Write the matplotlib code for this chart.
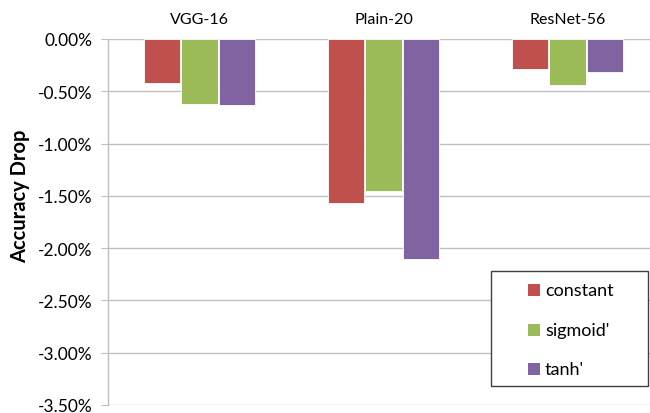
import matplotlib
matplotlib.use("Agg")
import matplotlib.pyplot as plt
import numpy as np
from matplotlib.ticker import FuncFormatter, MultipleLocator
from matplotlib.patches import Rectangle

categories = ["VGG-16", "Plain-20", "ResNet-56"]
series_names = ["constant", "sigmoid'", "tanh'"]
constant = [-0.42, -1.565, -0.29]
sigmoid = [-0.62, -1.45, -0.44]
tanh = [-0.63, -2.10, -0.315]
colors = ["#C0504D", "#9BBB59", "#8064A2"]

plt.rcParams['font.family'] = ['Lato', 'DejaVu Sans']

fig = plt.figure(figsize=(6.5, 4.14), dpi=100)
W, H = 650, 414
left, right, top, bottom = 108, 650, 40, 406
ax = fig.add_axes([left / W, 1 - bottom / H, (right - left) / W, (bottom - top) / H])

x = np.arange(len(categories))
offsets = [-0.205, 0.0, 0.205]
for vals, off, c, name in zip([constant, sigmoid, tanh], offsets, colors, series_names):
    ax.bar(x + off, vals, width=0.198, color=c, edgecolor="white", linewidth=0.6, label=name, zorder=3)

ax.set_ylim(-3.5, 0)
ax.set_xlim(-0.497, 2.448)
ax.yaxis.set_major_locator(MultipleLocator(0.5))
ax.yaxis.set_major_formatter(FuncFormatter(lambda v, p: f"{v:.2f}%" if abs(v) > 1e-9 else "0.00%"))
ax.grid(axis="y", color="#BFBFBF", linewidth=1.0, zorder=0)
ax.set_axisbelow(True)

for s in ["top", "right", "bottom"]:
    ax.spines[s].set_visible(False)
ax.spines["left"].set_color("#BFBFBF")
ax.spines["left"].set_linewidth(1.0)

ax.xaxis.tick_top()
ax.set_xticks(x)
ax.set_xticklabels(categories, fontsize=11.5)
ax.tick_params(axis="x", length=0, pad=9)
ax.tick_params(axis="y", length=5, color="#BFBFBF", labelsize=12.5, pad=6)

fig.text(20 / W, 1 - 196 / H, "Accuracy Drop", rotation=90, ha="center", va="center",
         fontsize=14.5, fontweight="bold")

# legend drawn in figure pixel coordinates
def fx(px):
    return px / W

def fy(py):
    return 1 - py / H

fig.patches.append(Rectangle((fx(491), fy(387)), (648 - 491) / W, (387 - 272) / H,
                             transform=fig.transFigure, facecolor="white",
                             edgecolor="#404040", linewidth=1.0, zorder=5))
for i, (name, c) in enumerate(zip(series_names, colors)):
    cy = [291, 331, 370][i]
    fig.patches.append(Rectangle((fx(528), fy(cy + 6)), 12 / W, 12 / H,
                                 transform=fig.transFigure, facecolor=c,
                                 edgecolor="none", zorder=6))
    fig.text(fx(545), fy(cy), name, fontsize=13, ha="left", va="center", zorder=7)

fig.savefig("out.png", dpi=100)
